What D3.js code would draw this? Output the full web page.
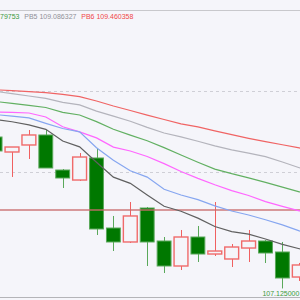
<!DOCTYPE html>
<html>
<head>
<meta charset="utf-8">
<script src="https://cdn.jsdelivr.net/npm/d3@7"></script>
<style>
  html, body { margin: 0; padding: 0; background: #f5f5fa; }
  svg { display: block; }
</style>
</head>
<body>
<div id="chart"></div>
<script>
// candles (first bar is cut at the left edge)
const opens  = [110.864, 110.494, 110.667, 110.914, 110.049, 109.802, 110.346, 108.617, 108.272, 109.111, 108.296, 107.679, 108.395, 107.975, 107.852, 108.123, 108.296, 108.025, 107.407];
const highs  = [110.938, 110.617, 111.037, 111.037, 110.074, 110.469, 110.593, 108.914, 109.259, 109.136, 108.395, 108.568, 108.667, 109.259, 108.222, 108.568, 108.321, 108.272, 107.754];
const lows   = [110.420, 109.877, 110.321, 110.099, 109.605, 109.778, 108.444, 108.049, 108.247, 107.679, 107.506, 107.580, 107.778, 107.926, 107.654, 107.778, 107.753, 107.125, 107.309];
const closes = [110.519, 110.617, 110.914, 110.099, 109.852, 110.370, 108.593, 108.272, 108.914, 108.272, 107.679, 108.395, 107.975, 108.049, 108.148, 108.296, 108.000, 107.383, 107.704];

// moving averages, one value per bar (one extra bar past the right edge)
const pb1 = [111.296, 111.240, 111.165, 111.054, 110.765, 110.620, 110.240, 109.874, 109.719, 109.430, 109.153, 109.032, 108.862, 108.654, 108.528, 108.464, 108.346, 108.212, 108.106, 108.000];
const pb2 = [111.420, 111.378, 111.336, 111.202, 111.074, 110.990, 110.600, 110.289, 110.030, 109.874, 109.573, 109.432, 109.319, 109.165, 109.037, 108.938, 108.820, 108.696, 108.548, 108.420];
const pb3 = [111.481, 111.472, 111.457, 111.358, 111.116, 110.990, 110.842, 110.615, 110.519, 110.383, 110.207, 110.012, 109.842, 109.684, 109.541, 109.420, 109.269, 109.151, 109.042, 108.938];
const pb4 = [111.743, 111.694, 111.647, 111.593, 111.472, 111.407, 111.244, 111.054, 110.911, 110.773, 110.602, 110.420, 110.242, 110.072, 109.958, 109.854, 109.743, 109.627, 109.511, 109.395];
const pb5 = [111.993, 111.933, 111.877, 111.817, 111.719, 111.657, 111.504, 111.380, 111.254, 111.101, 110.963, 110.867, 110.760, 110.647, 110.548, 110.464, 110.378, 110.247, 110.106, 109.975];
const pb6 = [112.032, 112.007, 111.983, 111.958, 111.916, 111.862, 111.753, 111.630, 111.519, 111.405, 111.296, 111.190, 111.116, 111.015, 110.921, 110.832, 110.751, 110.672, 110.595, 110.519];

const headerLabels = ["79753", "PB5 109.086327", "PB6 109.460358"];
const gridLevels = [110, 112];
const priceLine = 109.062;

const width = 300, height = 300;

const svg = d3.select("#chart").append("svg")
    .attr("width", width)
    .attr("height", height);

svg.append("rect")
    .attr("width", width)
    .attr("height", height)
    .attr("fill", "#f5f5fa");

const x = d3.scaleBand()
    .domain(d3.range(pb1.length))
    .range([-13.35, 324.65])
    .paddingInner(0.12)
    .paddingOuter(0.06);

const y = d3.scaleLinear()
    .domain([110, 112])
    .range([172, 91]);

const cx = i => x(i) + x.bandwidth() / 2;

// dashed levels
svg.selectAll(".grid")
    .data(gridLevels)
    .enter().append("line")
    .attr("x1", 0).attr("x2", width)
    .attr("y1", d => Math.round(y(d)) + 0.5)
    .attr("y2", d => Math.round(y(d)) + 0.5)
    .attr("stroke", "#cfcfd6")
    .attr("stroke-dasharray", "3,3");

// candles
const bars = d3.range(opens.length).map(i => ({
    i, o: opens[i], h: highs[i], l: lows[i], c: closes[i]
}));

const candle = svg.selectAll(".candle")
    .data(bars)
    .enter().append("g")
    .attr("class", "candle");

candle.append("line")
    .attr("x1", d => Math.round(cx(d.i)) + 0.5)
    .attr("x2", d => Math.round(cx(d.i)) + 0.5)
    .attr("y1", d => y(d.h))
    .attr("y2", d => y(d.l))
    .attr("stroke", d => d.c < d.o ? "#5aa85a" : "#f06060")
    .attr("stroke-width", 1);

candle.append("rect")
    .attr("x", d => x(d.i) + 0.5)
    .attr("width", x.bandwidth() - 1)
    .attr("y", d => y(Math.max(d.o, d.c)))
    .attr("height", d => Math.max(1, Math.abs(y(d.o) - y(d.c))))
    .attr("fill", d => d.c < d.o ? "#007800" : "#f5f5fa")
    .attr("stroke", d => d.c < d.o ? "#5aa85a" : "#f06a6a")
    .attr("stroke-width", d => d.c < d.o ? 1 : 1.4);

// price line
svg.append("line")
    .attr("x1", 0).attr("x2", width)
    .attr("y1", y(priceLine)).attr("y2", y(priceLine))
    .attr("stroke", "#c86c6c")
    .attr("stroke-opacity", 0.9)
    .attr("stroke-width", 1.3);

// moving averages
const series = [
    { values: pb6, color: "#f06464" },
    { values: pb5, color: "#b4b4bc" },
    { values: pb4, color: "#62b062" },
    { values: pb3, color: "#ff66ff" },
    { values: pb2, color: "#86a6f0" },
    { values: pb1, color: "#606060" }
];

const line = d3.line()
    .x((d, i) => cx(i))
    .y(d => y(d));

svg.selectAll(".ma")
    .data(series)
    .enter().append("path")
    .attr("d", d => line(d.values))
    .attr("fill", "none")
    .attr("stroke", d => d.color)
    .attr("stroke-width", 1.2);

// header
svg.append("line")
    .attr("x1", 0).attr("x2", width)
    .attr("y1", 10.5).attr("y2", 10.5)
    .attr("stroke", "#c8c8cc");

const headerColors = ["#3c9a3c", "#909098", "#f04848"];
let hx = 0;
headerLabels.forEach((t, i) => {
    const txt = svg.append("text")
        .attr("x", hx)
        .attr("y", 18.5)
        .attr("font-family", "Liberation Sans, Arial, sans-serif")
        .attr("font-size", 7)
        .attr("fill", headerColors[i])
        .text(t);
    hx += txt.node().getComputedTextLength() + 4.8;
});

// low marker
const lowIdx = d3.minIndex(lows);
svg.append("text")
    .attr("x", cx(lowIdx) - 1.5)
    .attr("y", 296)
    .attr("text-anchor", "middle")
    .attr("font-family", "Liberation Sans, Arial, sans-serif")
    .attr("font-size", 7)
    .attr("fill", "#3c9a3c")
    .text(d3.min(lows).toFixed(6));

svg.append("line")
    .attr("x1", 0).attr("x2", width)
    .attr("y1", 297.5).attr("y2", 297.5)
    .attr("stroke", "#b4b4b8");
</script>
</body>
</html>
